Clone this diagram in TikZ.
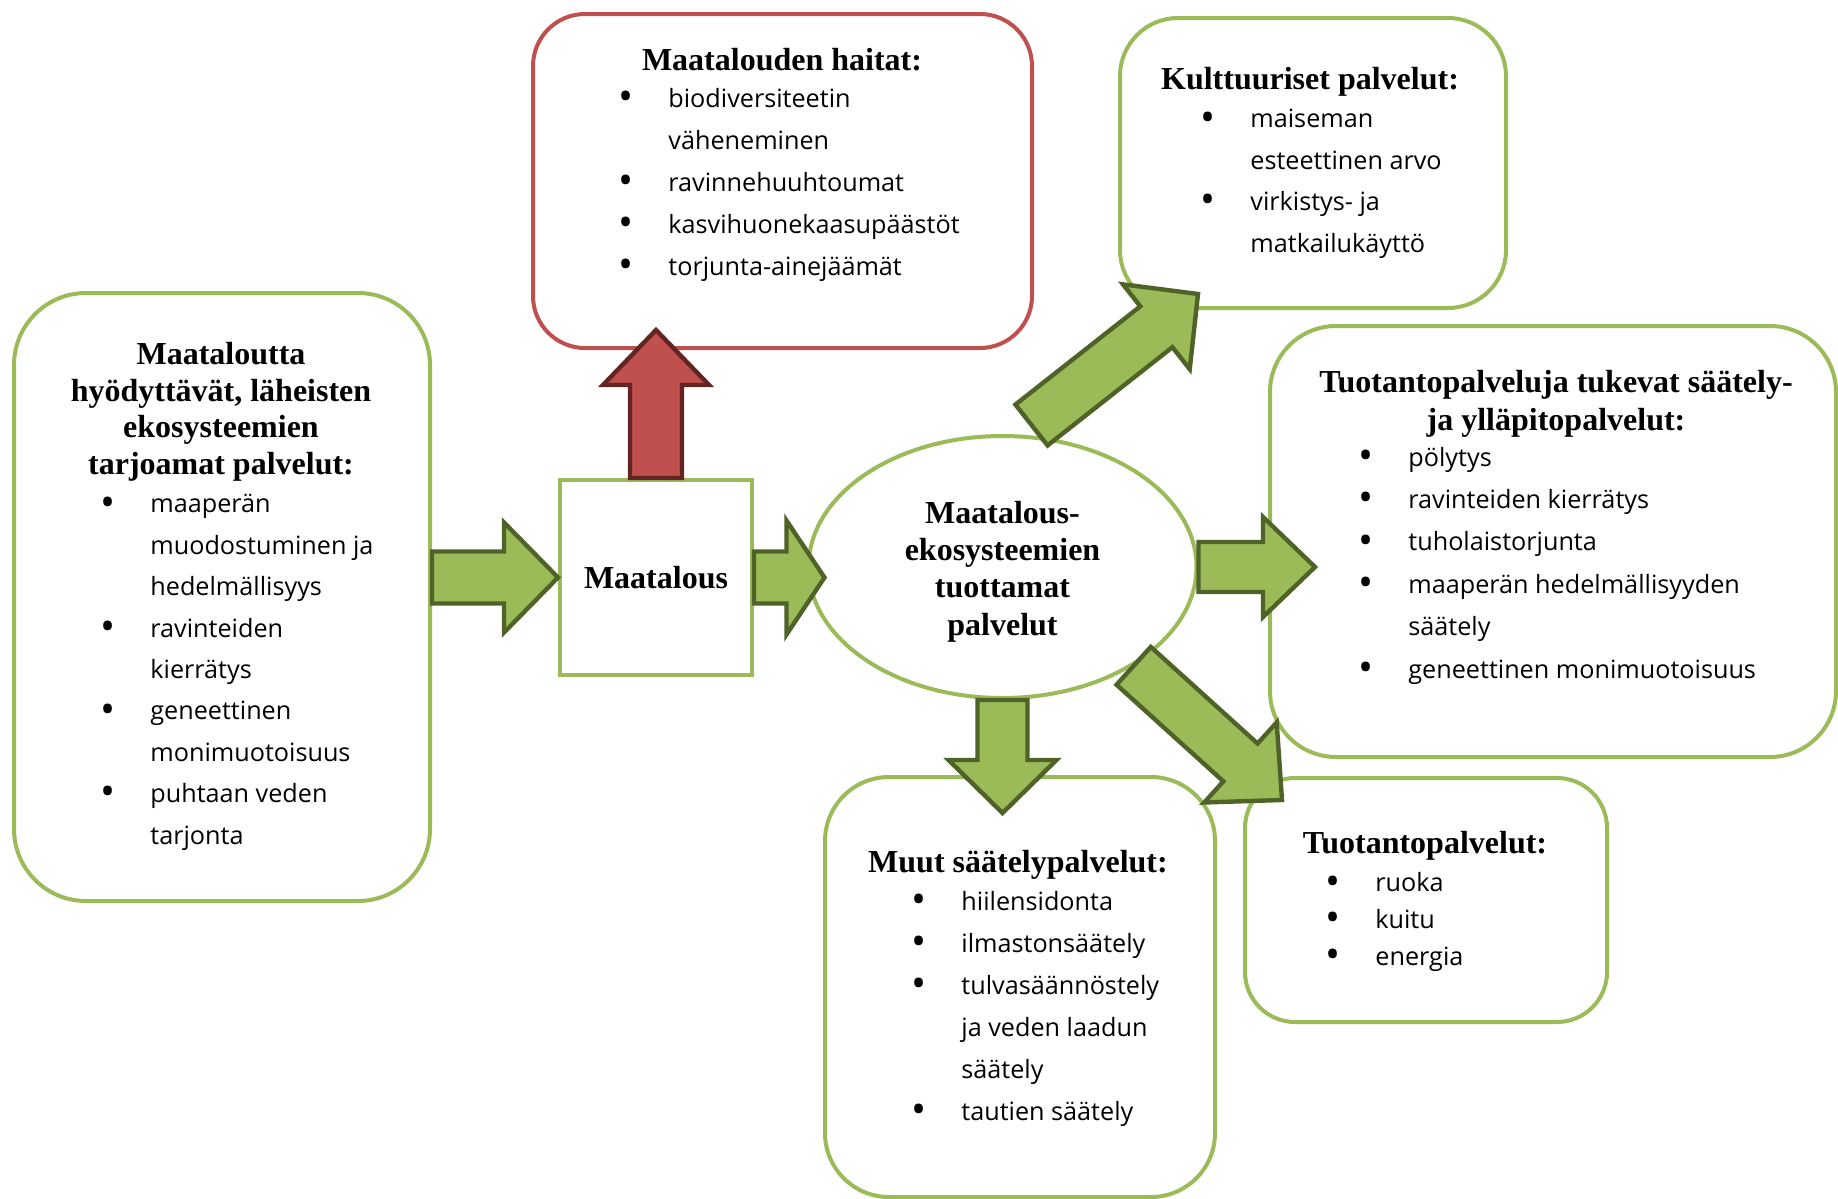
\documentclass[tikz,border=0pt]{standalone}
\usepackage{fontspec}
\setmainfont{Liberation Serif}
\newfontfamily\listfont{Open Sans}
\usetikzlibrary{calc,shapes.geometric}

\definecolor{boxgreen}{HTML}{9BBB59}
\definecolor{arrowedge}{HTML}{4F6228}
\definecolor{boxred}{HTML}{C0504D}
\definecolor{rededge}{HTML}{632523}

\newcommand{\bullt}{\makebox[0pt]{\raisebox{-1.6pt}{\fontsize{20}{20}\selectfont\textbullet}}\hspace*{21pt}}
\newcommand{\indt}{\hspace*{21pt}}

\tikzset{
  box/.style={draw=boxgreen, line width=2pt, rounded corners=#1, fill=white, inner sep=0pt},
  ttl/.style={font=\bfseries\fontsize{16}{#1}\selectfont, align=center, inner sep=0pt, anchor=base},
  ttl/.default=18.2pt,
  lst/.style={font=\listfont\fontsize{12.6}{#1}\selectfont, align=left, inner sep=0pt, anchor=base west},
  lst/.default=21pt,
  garrow/.style={fill=boxgreen, draw=arrowedge, line width=2.2pt},
  rarrow/.style={fill=boxred, draw=rededge, line width=2.2pt},
  % block arrow: shaft half width, head half width, head length
  fat/.style n args={3}{to path={
    ($(\tikztostart)!#1!90:(\tikztotarget)$)
    -- ($(\tikztotarget)!#3!(\tikztostart)!#1!-90:(\tikztostart)$)
    -- ($(\tikztotarget)!#3!(\tikztostart)!#2!-90:(\tikztostart)$)
    -- (\tikztotarget)
    -- ($(\tikztotarget)!#3!(\tikztostart)!#2!90:(\tikztostart)$)
    -- ($(\tikztotarget)!#3!(\tikztostart)!#1!90:(\tikztostart)$)
    -- ($(\tikztostart)!#1!-90:(\tikztotarget)$) -- cycle}}
}

\begin{document}
\begin{tikzpicture}[x=0.5pt,y=-0.5pt]
\useasboundingbox (0,0) rectangle (1838,1199);

% boxes
\node[box=36pt, minimum width=208pt, minimum height=304pt] (lahi) at (222,597) {};
\node[box=26pt, draw=boxred, minimum width=249.5pt, minimum height=167pt] (haitat) at (782.5,181) {};
\node[box=29pt, minimum width=193pt, minimum height=145pt] (kult) at (1313,163) {};
\node[box=33pt, minimum width=283pt, minimum height=215.5pt] (tuki) at (1553,541.5) {};
\node[box=32pt, minimum width=195pt, minimum height=210pt] (muut) at (1020,987) {};
\node[box=25pt, minimum width=181pt, minimum height=122pt] (tuot) at (1426,900) {};
\node[box=0pt, minimum width=96pt, minimum height=97.5pt, font=\bfseries\fontsize{16}{18}\selectfont] (maat) at (656,577.5) {Maatalous};
\node[ellipse, draw=boxgreen, line width=2pt, fill=white, inner sep=0pt, minimum width=194pt, minimum height=131pt] (eko) at (1002.5,567) {};

% texts (placed at the baseline of their last line)
\node[ttl=18.6pt] (ekottl) at (1002.5,635) {Maatalous-\\ekosysteemien\\tuottamat\\palvelut};

\node[ttl] (lahittl) at (221,474) {Maataloutta\\hyödyttävät, läheisten\\ekosysteemien\\tarjoamat palvelut:};
\node[lst=20.7pt] (lahilst) at (108,844) {\bullt maaperän\\\indt muodostuminen ja\\\indt hedelmällisyys\\
  \bullt ravinteiden\\\indt kierrätys\\\bullt geneettinen\\\indt monimuotoisuus\\\bullt puhtaan veden\\\indt tarjonta};

\node[ttl] (haitatttl) at (782,70) {Maatalouden haitat:};
\node[lst] (haitatlst) at (626,275) {\bullt biodiversiteetin\\\indt väheneminen\\\bullt ravinnehuuhtoumat\\
  \bullt kasvihuonekaasupäästöt\\\bullt torjunta-ainejäämät};

\node[ttl] (kultttl) at (1310,90) {Kulttuuriset palvelut:};
\node[lst=20.7pt] (kultlst) at (1208,252) {\bullt maiseman\\\indt esteettinen arvo\\\bullt virkistys- ja\\\indt matkailukäyttö};

\node[ttl=19pt] (tukittl) at (1556,430) {Tuotantopalveluja tukevat säätely-\\ja ylläpitopalvelut:};
\node[lst=21.2pt] (tukilst) at (1366,678) {\bullt pölytys\\\bullt ravinteiden kierrätys\\\bullt tuholaistorjunta\\
  \bullt maaperän hedelmällisyyden\\\indt säätely\\\bullt geneettinen monimuotoisuus};

\node[ttl] (muutttl) at (1018,872) {Muut säätelypalvelut:};
\node[lst] (muutlst) at (919,1120) {\bullt hiilensidonta\\\bullt ilmastonsäätely\\\bullt tulvasäännöstely\\
  \indt ja veden laadun\\\indt säätely\\\bullt tautien säätely};

\node[ttl] (tuotttl) at (1425,853) {Tuotantopalvelut:};
\node[lst=18.3pt] (tuotlst) at (1333,965) {\bullt ruoka\\\bullt kuitu\\\bullt energia};

% arrow ends
\coordinate (lahiout) at (maat.west -| lahi.east);
\coordinate (ekoin) at ($(maat.east -| eko.west)+(18,0)$);
\coordinate (haitatin) at ($(maat.north |- haitat.south)+(0,-20)$);
\coordinate (ekotop) at ($(eko.north)+(29,-9)$);
\coordinate (kultin) at ($(kult.south west)+(80,-16)$);
\coordinate (tukiin) at ($(eko.east -| tuki.west)+(47,0)$);
\coordinate (muutin) at ($(eko.south |- muut.north)+(0,38)$);
\coordinate (tuotin) at ($(tuot.north west)+(39,24)$);

% arrows
\draw[garrow, fat={13pt}{27.5pt}{27pt}] (lahiout) to (maat.west);
\draw[garrow, fat={13pt}{28.5pt}{19pt}] (maat.east) to (ekoin);
\draw[rarrow, fat={13pt}{26.5pt}{27.5pt}] (maat.north) to (haitatin);
\draw[garrow, fat={13pt}{27pt}{26.5pt}] (ekotop) to (kultin);
\draw[garrow, fat={12.5pt}{25pt}{26pt}] (eko.east) to (tukiin);
\draw[garrow, fat={12.5pt}{27pt}{26.5pt}] (eko.south) to (muutin);
\draw[garrow, fat={12.75pt}{27pt}{28pt}] (eko.-37) to (tuotin);
\end{tikzpicture}
\end{document}
